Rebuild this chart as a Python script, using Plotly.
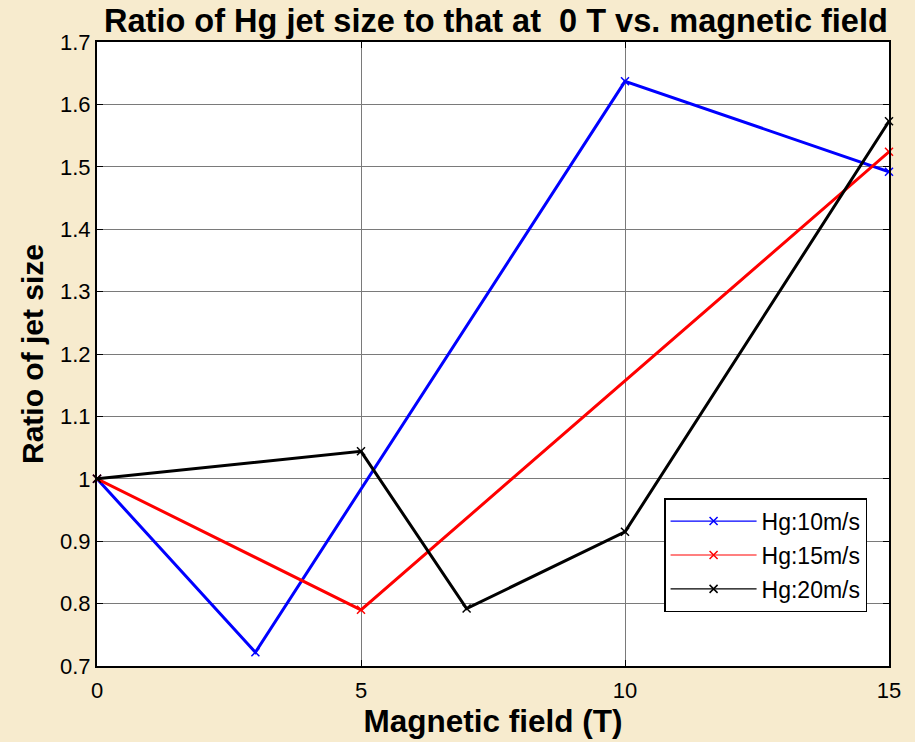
import plotly.graph_objects as go

# Magnetic field (T) and jet-size ratios for each jet velocity
field_10 = [0, 3, 10, 15]
ratio_10 = [1.0, 0.722, 1.637, 1.492]

field_15 = [0, 5, 15]
ratio_15 = [1.0, 0.790, 1.524]

field_20 = [0, 5, 7, 10, 15]
ratio_20 = [1.0, 1.044, 0.792, 0.915, 1.573]

series = [
    ("Hg:10m/s", field_10, ratio_10, "#0000FF"),
    ("Hg:15m/s", field_15, ratio_15, "#FF0000"),
    ("Hg:20m/s", field_20, ratio_20, "#000000"),
]

x_ticks = [0, 5, 10, 15]
y_ticks = [0.7, 0.8, 0.9, 1.0, 1.1, 1.2, 1.3, 1.4, 1.5, 1.6, 1.7]
y_tick_text = ["0.7", "0.8", "0.9", "1", "1.1", "1.2", "1.3", "1.4", "1.5", "1.6", "1.7"]

FONT = "Arial, Liberation Sans, sans-serif"

fig = go.Figure()
for i, (name, xs, ys, color) in enumerate(series):
    # data line (thick)
    fig.add_trace(go.Scatter(
        x=xs, y=ys, name=name, mode="lines+markers", showlegend=False,
        line=dict(color=color, width=3),
        marker=dict(symbol="x-thin-open", size=8,
                    line=dict(color=color, width=1.5), color=color),
        cliponaxis=False,
    ))
    # legend entry (thin line sample)
    fig.add_trace(go.Scatter(
        x=[None], y=[None], name=name, mode="lines+markers",
        legendgroup=f"g{i}",
        line=dict(color=color, width=1.2),
        marker=dict(symbol="x-thin-open", size=8,
                    line=dict(color=color, width=1.5), color=color),
    ))

axis_common = dict(
    showline=True, linecolor="black", linewidth=2, mirror="ticks",
    ticks="inside", ticklen=6, tickcolor="black", tickwidth=1,
    showgrid=True, gridcolor="#7a7a7a", gridwidth=1,
    zeroline=False,
    tickfont=dict(family=FONT, size=22, color="black"),
)

fig.update_layout(
    width=915, height=742,
    paper_bgcolor="#F7EBCE",
    plot_bgcolor="white",
    margin=dict(l=97, r=26, t=42, b=76),
    title=dict(
        text="<b>Ratio of Hg jet size to that at &nbsp;0 T vs. magnetic field</b>",
        x=0.542, xanchor="center", y=0.972, yanchor="middle",
        font=dict(family=FONT, size=32.5, color="black"),
    ),
    xaxis=dict(
        range=[0, 15], tickvals=x_ticks, ticklabelstandoff=4,
        title=dict(text="<b>Magnetic field (T)</b>", standoff=3,
                   font=dict(family=FONT, size=31.5, color="black")),
        **axis_common,
    ),
    yaxis=dict(
        range=[0.7, 1.7], tickvals=y_ticks, ticktext=y_tick_text,
        title=dict(text="<b>Ratio of jet size</b>", standoff=8,
                   font=dict(family=FONT, size=30, color="black")),
        **axis_common,
    ),
    legend=dict(
        x=0.716, y=0.269, xanchor="left", yanchor="top",
        bgcolor="white", bordercolor="black", borderwidth=1.5,
        font=dict(family=FONT, size=23, color="black"),
        itemwidth=86, traceorder="grouped", tracegroupgap=1,
    ),
    showlegend=True,
)

fig.write_html("out.html")
